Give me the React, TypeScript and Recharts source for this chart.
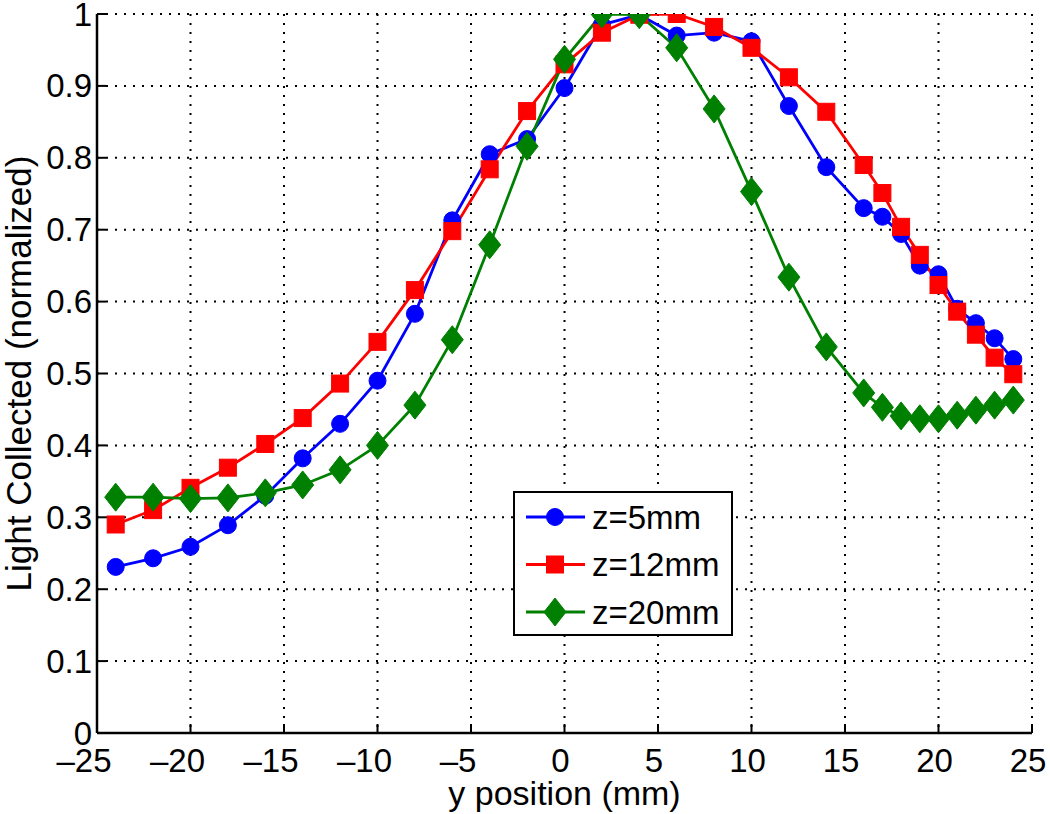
import React from 'react';
import { LineChart, Line, XAxis, YAxis, CartesianGrid, Legend } from 'recharts';

const yPositions = [-24, -22, -20, -18, -16, -14, -12, -10, -8, -6, -4, -2, 0, 2, 4, 6, 8, 10, 12, 14, 16, 17, 18, 19, 20, 21, 22, 23, 24];
const z5 = [0.231, 0.243, 0.259, 0.289, 0.330, 0.382, 0.430, 0.490, 0.583, 0.713, 0.805, 0.826, 0.897, 0.985, 0.999, 0.970, 0.974, 0.962, 0.872, 0.787, 0.730, 0.718, 0.694, 0.650, 0.638, 0.590, 0.570, 0.549, 0.520];
const z12 = [0.290, 0.310, 0.341, 0.369, 0.402, 0.438, 0.486, 0.544, 0.616, 0.698, 0.784, 0.865, 0.930, 0.974, 0.999, 1.0, 0.982, 0.953, 0.912, 0.864, 0.790, 0.751, 0.704, 0.665, 0.623, 0.586, 0.554, 0.522, 0.499];
const z20 = [0.328, 0.328, 0.326, 0.327, 0.334, 0.345, 0.366, 0.400, 0.456, 0.547, 0.679, 0.816, 0.937, 1.0, 0.999, 0.953, 0.868, 0.753, 0.634, 0.537, 0.473, 0.453, 0.441, 0.437, 0.437, 0.442, 0.449, 0.456, 0.463];

const xTicks = [-25, -20, -15, -10, -5, 0, 5, 10, 15, 20, 25];
const yTicks = [0, 0.1, 0.2, 0.3, 0.4, 0.5, 0.6, 0.7, 0.8, 0.9, 1];
const yTickLabels = ['0', '0.1', '0.2', '0.3', '0.4', '0.5', '0.6', '0.7', '0.8', '0.9', '1'];

const seriesNames = ['z=5mm', 'z=12mm', 'z=20mm'];
const seriesKeys = ['z5', 'z12', 'z20'];
const seriesColors = ['#0000ff', '#ff0000', '#008000'];
const seriesMarkers = ['circle', 'square', 'diamond'];

const data = yPositions.map((y, i) => ({ y, z5: z5[i], z12: z12[i], z20: z20[i] }));

const FONT = '"Liberation Sans", Arial, Helvetica, sans-serif';
const TICK_FS = 33;
const TICK_LEN = 9;

function Marker({ type, cx, cy, color }: { type: string; cx: number; cy: number; color: string }) {
  if (type === 'circle') return <circle cx={cx} cy={cy} r={8.5} fill={color} stroke={color} strokeWidth={1} />;
  if (type === 'square') return <rect x={cx - 8.5} y={cy - 8.5} width={17} height={17} fill={color} stroke={color} strokeWidth={1} />;
  return (
    <polygon
      points={`${cx},${cy - 14} ${cx + 11},${cy} ${cx},${cy + 14} ${cx - 11},${cy}`}
      fill={color}
      stroke={color}
      strokeWidth={1}
    />
  );
}

const makeDot = (type: string, color: string) => (p: any) => {
  if (p.cx == null || p.cy == null) return <g key={`e-${p.index}`} />;
  return <Marker key={`${type}-${p.index}`} type={type} cx={p.cx} cy={p.cy} color={color} />;
};

const fmtX = (v: number) => (v < 0 ? '\u2013' + String(Math.abs(v)) : String(v));

const BottomTick = (props: any) => {
  const { x, y, payload } = props;
  const v = payload.value;
  return (
    <g>
      <line x1={x} y1={y} x2={x} y2={y - TICK_LEN} stroke="#000" strokeWidth={2} />
      <text x={x} y={y + 39} dx={v < 0 ? -13 : -4} textAnchor="middle" fontSize={TICK_FS} fontFamily={FONT} fill="#000">
        {fmtX(v)}
      </text>
    </g>
  );
};

const TopTick = (props: any) => {
  const { x, y } = props;
  return <line x1={x} y1={y} x2={x} y2={y + TICK_LEN} stroke="#000" strokeWidth={2} />;
};

const LeftTick = (props: any) => {
  const { x, y, payload } = props;
  const idx = yTicks.indexOf(payload.value);
  return (
    <g>
      <line x1={x} y1={y} x2={x + TICK_LEN} y2={y} stroke="#000" strokeWidth={2} />
      <text x={x - 5} y={y} textAnchor="end" dominantBaseline="central" fontSize={TICK_FS} fontFamily={FONT} fill="#000">
        {idx >= 0 ? yTickLabels[idx] : String(payload.value)}
      </text>
    </g>
  );
};

const RightTick = (props: any) => {
  const { x, y } = props;
  return <line x1={x} y1={y} x2={x - TICK_LEN} y2={y} stroke="#000" strokeWidth={2} />;
};

const LegendBox = (props: any) => {
  const payload = props.payload || [];
  return (
    <svg width={220} height={145} style={{ display: 'block' }}>
      <rect x={1} y={1} width={218} height={143} fill="#fff" stroke="#000" strokeWidth={2} />
      {payload.map((entry: any, i: number) => {
        const idx = seriesNames.indexOf(entry.value);
        const k = idx >= 0 ? idx : i;
        const cy = 26 + k * 47.5;
        const color = seriesColors[k];
        return (
          <g key={entry.value}>
            <line x1={13} y1={cy} x2={72} y2={cy} stroke={color} strokeWidth={2.8} />
            <Marker type={seriesMarkers[k]} cx={42} cy={cy} color={color} />
            <text x={79} y={cy} dominantBaseline="central" fontSize={33} fontFamily={FONT} fill="#000">
              {entry.value}
            </text>
          </g>
        );
      })}
    </svg>
  );
};

export default function App() {
  return (
    <div style={{ position: 'absolute', left: 0, top: 0, background: '#fff' }}>
      <LineChart width={1050} height={814} data={data} margin={{ top: 14, right: 18, bottom: 0, left: 0 }}>
        <CartesianGrid stroke="#000" strokeWidth={2} strokeDasharray="2 7" />
        <XAxis
          dataKey="y"
          type="number"
          domain={[-25, 25]}
          ticks={xTicks}
          allowDataOverflow
          height={81}
          tickSize={0}
          tickMargin={0}
          tickLine={false}
          axisLine={{ stroke: '#000', strokeWidth: 2.5 }}
          tick={<BottomTick />}
          interval={0}
          label={{
            value: 'y position (mm)',
            content: (p: any) => {
              const vb = p.viewBox || {};
              return (
                <text x={vb.x + vb.width / 2} y={vb.y + 72} textAnchor="middle" fontSize={34} fontFamily={FONT} fill="#000">
                  y position (mm)
                </text>
              );
            },
          }}
        />
        <XAxis
          xAxisId="top"
          orientation="top"
          type="number"
          domain={[-25, 25]}
          ticks={xTicks}
          allowDataOverflow
          height={0}
          tickSize={0}
          tickMargin={0}
          tickLine={false}
          axisLine={{ stroke: '#000', strokeWidth: 2.5 }}
          tick={<TopTick />}
          interval={0}
        />
        <YAxis
          type="number"
          domain={[0, 1]}
          ticks={yTicks}
          allowDataOverflow
          width={97}
          tickSize={0}
          tickMargin={0}
          tickLine={false}
          axisLine={{ stroke: '#000', strokeWidth: 2.5 }}
          tick={<LeftTick />}
          interval={0}
          label={{
            value: 'Light Collected (normalized)',
            content: (p: any) => {
              const vb = p.viewBox || {};
              const cx = vb.x + 31;
              const cy = vb.y + vb.height / 2;
              return (
                <text x={cx} y={cy} transform={`rotate(-90 ${cx} ${cy})`} textAnchor="middle" fontSize={35} fontFamily={FONT} fill="#000">
                  Light Collected (normalized)
                </text>
              );
            },
          }}
        />
        <YAxis
          yAxisId="right"
          orientation="right"
          type="number"
          domain={[0, 1]}
          ticks={yTicks}
          allowDataOverflow
          width={0}
          tickSize={0}
          tickMargin={0}
          tickLine={false}
          axisLine={{ stroke: '#000', strokeWidth: 2.5 }}
          tick={<RightTick />}
          interval={0}
        />
        {seriesKeys.map((k, i) => (
          <Line
            key={k}
            dataKey={k}
            name={seriesNames[i]}
            type="linear"
            stroke={seriesColors[i]}
            strokeWidth={2.8}
            dot={makeDot(seriesMarkers[i], seriesColors[i])}
            activeDot={false}
            isAnimationActive={false}
          />
        ))}
        <Legend
          layout="vertical"
          align="center"
          verticalAlign="middle"
          content={<LegendBox />}
          wrapperStyle={{ left: 513, top: 491, width: 220, height: 145 }}
        />
      </LineChart>
    </div>
  );
}
